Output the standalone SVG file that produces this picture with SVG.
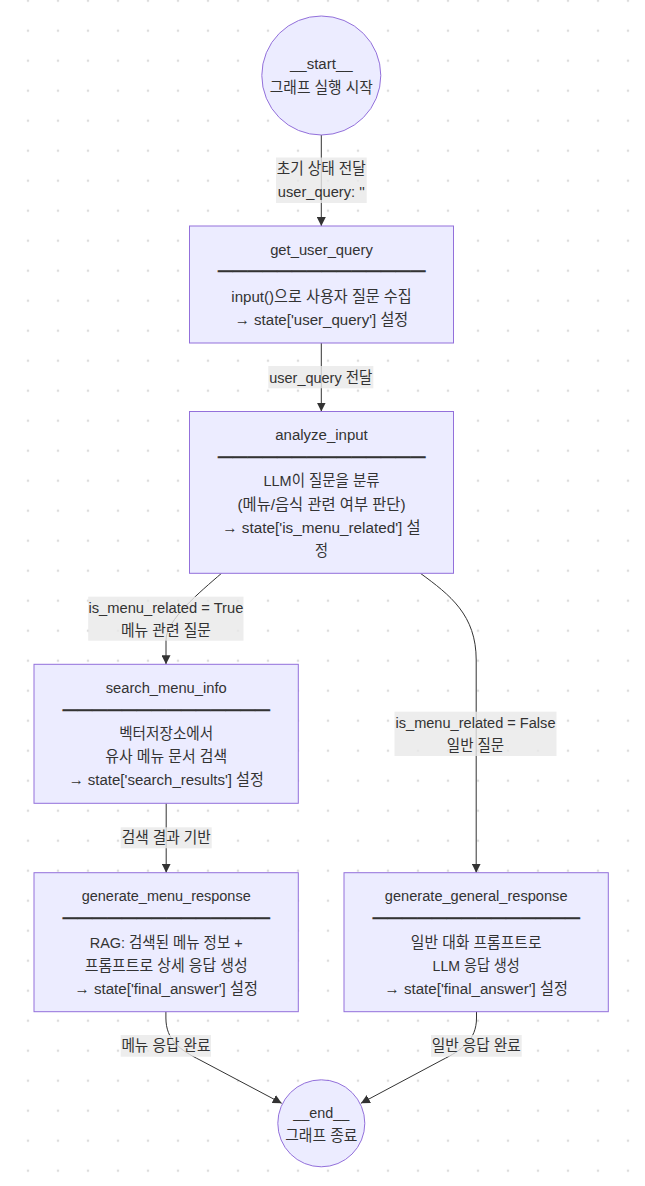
<svg xmlns="http://www.w3.org/2000/svg" width="645" height="1186" viewBox="0 0 645 1186">
<defs>
<pattern id="dots" patternUnits="userSpaceOnUse" x="13" y="15.7" width="30" height="30">
<circle cx="15" cy="15" r="1.3" fill="#dddddd"/>
</pattern>
<marker id="arrow" viewBox="0 0 10 10" refX="10" refY="5" markerUnits="userSpaceOnUse" markerWidth="9" markerHeight="9" orient="auto">
<path d="M0,0 L10,5 L0,10 z" fill="#333333"/>
</marker>
</defs>
<style>
.node{fill:#ECECFF;stroke:#9370DB;stroke-width:1}
.edge{fill:none;stroke:#333333;stroke-width:1;marker-end:url(#arrow)}
.lbl{fill:#e8e8e8;fill-opacity:0.8}
text{font-family:"Liberation Sans","Noto Sans CJK KR",sans-serif;font-size:15.5px;fill:#333333;text-anchor:middle}
text.sep{font-family:"DejaVu Sans",sans-serif;font-size:22px;fill:#333333}
</style>
<rect width="645" height="1186" fill="#ffffff"/>
<rect width="645" height="1186" fill="url(#dots)"/>

<g id="connectors">
<path class="edge" d="M321.3,135 L321.3,226"/>
<path class="edge" d="M321.3,343 L321.3,411.5"/>
<path class="edge" d="M221.5,573.3 C200,592 166,620 166,640 L166,664.3"/>
<path class="edge" d="M420.4,573.3 C450,595 476.2,615 476.2,660 L476.2,872.7"/>
<path class="edge" d="M166.2,803.3 L166.2,872.7"/>
<path class="edge" d="M165.9,1011.7 L165.9,1018 C165.9,1040 180,1050 200,1060 L281.7,1103.3"/>
<path class="edge" d="M476.5,1011.7 L476.5,1018 C476.5,1040 462,1050 442,1060 L360.9,1103.3"/>
</g>

<g id="edge-labels">
<g id="label-init">
<rect class="lbl" x="276" y="157.5" width="90.7" height="45.5"/>
<text x="321.3" y="174" textLength="89" lengthAdjust="spacingAndGlyphs">초기 상태 전달</text>
<text x="321.3" y="197" textLength="87" lengthAdjust="spacingAndGlyphs">user_query: ''</text>
</g>
<g id="label-query">
<rect class="lbl" x="268.3" y="366" width="105" height="22.3"/>
<text x="320.8" y="382.5" textLength="103" lengthAdjust="spacingAndGlyphs">user_query 전달</text>
</g>
<g id="label-true">
<rect class="lbl" x="88.2" y="596.7" width="155.3" height="44"/>
<text x="165.9" y="613" textLength="155" lengthAdjust="spacingAndGlyphs">is_menu_related = True</text>
<text x="165.9" y="635.5" textLength="90" lengthAdjust="spacingAndGlyphs">메뉴 관련 질문</text>
</g>
<g id="label-false">
<rect class="lbl" x="394.5" y="711.7" width="162" height="44.3"/>
<text x="475.5" y="728.2" textLength="160" lengthAdjust="spacingAndGlyphs">is_menu_related = False</text>
<text x="475.5" y="750.5" textLength="57.3" lengthAdjust="spacingAndGlyphs">일반 질문</text>
</g>
<g id="label-search">
<rect class="lbl" x="120.7" y="827.3" width="91" height="21"/>
<text x="166.2" y="843.3" textLength="89" lengthAdjust="spacingAndGlyphs">검색 결과 기반</text>
</g>
<g id="label-menu-done">
<rect class="lbl" x="120.7" y="1035" width="90.3" height="21.7"/>
<text x="165.9" y="1051.4" textLength="89" lengthAdjust="spacingAndGlyphs">메뉴 응답 완료</text>
</g>
<g id="label-general-done">
<rect class="lbl" x="431" y="1035" width="90.7" height="21.7"/>
<text x="476.3" y="1051.4" textLength="89" lengthAdjust="spacingAndGlyphs">일반 응답 완료</text>
</g>
</g>

<g id="start">
<circle class="node" cx="321.3" cy="75.5" r="59.5"/>
<text x="321.3" y="69" textLength="62.7" lengthAdjust="spacingAndGlyphs">__start__</text>
<text x="321.3" y="92.5" textLength="103" lengthAdjust="spacingAndGlyphs">그래프 실행 시작</text>
</g>

<g id="get_user_query">
<rect class="node" x="189.5" y="226" width="264" height="117"/>
<text x="321.5" y="255" textLength="102.7" lengthAdjust="spacingAndGlyphs">get_user_query</text>
<text class="sep" x="321.5" y="279.3" textLength="207.5" lengthAdjust="spacingAndGlyphs">──────────────</text>
<text x="321.5" y="301.5" textLength="180.3" lengthAdjust="spacingAndGlyphs">input()으로 사용자 질문 수집</text>
<text x="321.5" y="324.8" textLength="173.3" lengthAdjust="spacingAndGlyphs">→ state['user_query'] 설정</text>
</g>

<g id="analyze_input">
<rect class="node" x="189.5" y="411.5" width="264" height="161.8"/>
<text x="321.5" y="439.7" textLength="92.6" lengthAdjust="spacingAndGlyphs">analyze_input</text>
<text class="sep" x="321.5" y="464.9" textLength="207.5" lengthAdjust="spacingAndGlyphs">──────────────</text>
<text x="321.5" y="486.2" textLength="116" lengthAdjust="spacingAndGlyphs">LLM이 질문을 분류</text>
<text x="321.5" y="509.5" textLength="168" lengthAdjust="spacingAndGlyphs">(메뉴/음식 관련 여부 판단)</text>
<text x="321.5" y="532.8" textLength="198.3" lengthAdjust="spacingAndGlyphs">→ state['is_menu_related'] 설</text>
<text x="321.5" y="556.1" textLength="13" lengthAdjust="spacingAndGlyphs">정</text>
</g>

<g id="search_menu_info">
<rect class="node" x="34" y="664.3" width="264.3" height="139"/>
<text x="166.2" y="692.7" textLength="121" lengthAdjust="spacingAndGlyphs">search_menu_info</text>
<text class="sep" x="166.2" y="717.6" textLength="207.5" lengthAdjust="spacingAndGlyphs">──────────────</text>
<text x="166.2" y="739.1" textLength="94" lengthAdjust="spacingAndGlyphs">벡터저장소에서</text>
<text x="166.2" y="762.1" textLength="121.7" lengthAdjust="spacingAndGlyphs">유사 메뉴 문서 검색</text>
<text x="166.2" y="785.1" textLength="195" lengthAdjust="spacingAndGlyphs">→ state['search_results'] 설정</text>
</g>

<g id="generate_menu_response">
<rect class="node" x="34" y="872.7" width="264.3" height="139"/>
<text x="166.2" y="901.3" textLength="169" lengthAdjust="spacingAndGlyphs">generate_menu_response</text>
<text class="sep" x="166.2" y="925.9" textLength="207.5" lengthAdjust="spacingAndGlyphs">──────────────</text>
<text x="166.2" y="947.5" textLength="153" lengthAdjust="spacingAndGlyphs">RAG: 검색된 메뉴 정보 +</text>
<text x="166.2" y="970.5" textLength="163" lengthAdjust="spacingAndGlyphs">프롬프트로 상세 응답 생성</text>
<text x="166.2" y="993.5" textLength="183.3" lengthAdjust="spacingAndGlyphs">→ state['final_answer'] 설정</text>
</g>

<g id="generate_general_response">
<rect class="node" x="344" y="872.7" width="264.3" height="139"/>
<text x="476.2" y="901.3" textLength="182.7" lengthAdjust="spacingAndGlyphs">generate_general_response</text>
<text class="sep" x="476.2" y="925.9" textLength="207.5" lengthAdjust="spacingAndGlyphs">──────────────</text>
<text x="476.2" y="947.5" textLength="130.7" lengthAdjust="spacingAndGlyphs">일반 대화 프롬프트로</text>
<text x="476.2" y="970.5" textLength="87.3" lengthAdjust="spacingAndGlyphs">LLM 응답 생성</text>
<text x="476.2" y="993.5" textLength="183.3" lengthAdjust="spacingAndGlyphs">→ state['final_answer'] 설정</text>
</g>

<g id="end">
<circle class="node" cx="321.3" cy="1123.3" r="43.5"/>
<text x="321.3" y="1118" textLength="56" lengthAdjust="spacingAndGlyphs">__end__</text>
<text x="321.3" y="1140.5" textLength="72.3" lengthAdjust="spacingAndGlyphs">그래프 종료</text>
</g>
</svg>
